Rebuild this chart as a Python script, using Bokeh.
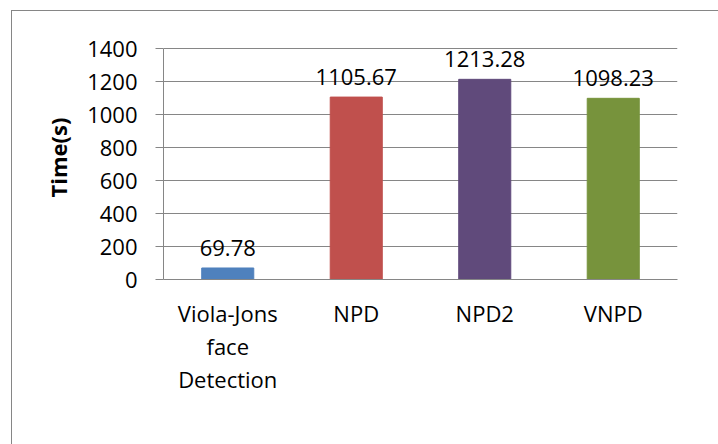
from bokeh.plotting import figure
from bokeh.models import Range1d, FactorRange, FixedTicker, ColumnDataSource
from bokeh.core.properties import value
from bokeh.embed import file_html
from bokeh.resources import INLINE

categories = ["Viola-Jons\nface\nDetection", "NPD", "NPD2", "VNPD"]
times = [69.78, 1105.67, 1213.28, 1098.23]
value_labels = ["69.78", "1105.67", "1213.28", "1098.23"]
colors = ["#4F81BD", "#C0504D", "#604A7B", "#77933C"]
y_ticks = [0, 200, 400, 600, 800, 1000, 1200, 1400]

FONT = "Open Sans"
GRAY = "#868686"

src = ColumnDataSource(dict(cat=categories, t=times, lab=value_labels, col=colors))

p = figure(width=712, height=440, output_backend="svg", toolbar_location=None,
           x_range=FactorRange(*categories, range_padding=0),
           y_range=Range1d(0, 1479),
           min_border_left=151, min_border_right=47, min_border_top=24, min_border_bottom=172)
p.outline_line_color = None
p.background_fill_color = "white"
p.border_fill_color = "white"
p.margin = (11, 0, 0, 12)
p.styles = {"box-shadow": "-1px -1px 0px 0px #868686"}

p.vbar(x="cat", top="t", width=0.405, color="col", source=src)
p.text(x="cat", y="t", text="lab", source=src, text_align="center", text_baseline="alphabetic",
       y_offset=-20, text_font=value(FONT), text_font_size="22px", text_color="black")

# y axis
ya = p.yaxis[0]
ya.ticker = FixedTicker(ticks=y_ticks)
ya.bounds = (0, 1400)
ya.axis_line_color = GRAY
ya.major_tick_line_color = GRAY
ya.major_tick_out = 8
ya.major_tick_in = 0
ya.minor_tick_line_color = None
ya.major_label_standoff = 18
ya.major_label_text_font = FONT
ya.major_label_text_font_size = "22px"
ya.major_label_text_color = "black"
ya.axis_label = "Time(s)"
ya.axis_label_text_font = FONT
ya.axis_label_text_font_size = "22px"
ya.axis_label_text_font_style = "bold"
ya.axis_label_text_color = "black"
ya.axis_label_standoff = 11

# x axis
xa = p.xaxis[0]
xa.axis_line_color = GRAY
xa.major_tick_line_color = None
xa.minor_tick_line_color = None
xa.major_label_standoff = 12
xa.major_label_text_font = FONT
xa.major_label_text_font_size = "22px"
xa.major_label_text_color = "black"
xa.major_label_text_line_height = 1.1

p.xgrid.grid_line_color = None
p.ygrid.ticker = FixedTicker(ticks=y_ticks)
p.ygrid.grid_line_color = GRAY
p.ygrid.grid_line_width = 1

open("out.html", "w").write(file_html(p, INLINE))
